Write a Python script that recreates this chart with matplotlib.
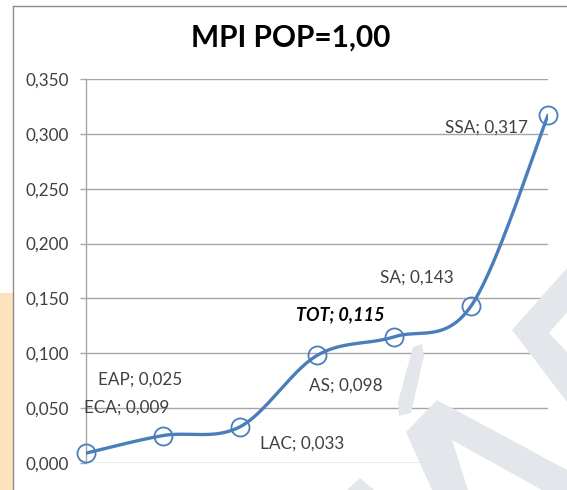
import numpy as np
import matplotlib
matplotlib.use("Agg")
import matplotlib.pyplot as plt
from matplotlib.patches import Polygon, Rectangle
from matplotlib.lines import Line2D

plt.rcParams['font.family'] = ['Lato', 'DejaVu Sans']

# ---- data ----
regions = ["ECA", "EAP", "LAC", "AS", "TOT", "SA", "SSA"]
mpi = [0.009, 0.025, 0.033, 0.098, 0.115, 0.143, 0.317]
yticks = [0.0, 0.05, 0.10, 0.15, 0.20, 0.25, 0.30, 0.35]
title = "MPI POP=1,00"

# label offsets in pixels (dx, dy) from the point
label_off = {
    "ECA": (41, 46), "EAP": (-23, 56), "LAC": (62, -17), "AS": (29, -30),
    "TOT": (-54, 22), "SA": (-54, 28), "SSA": (-62, -12),
}

W, H = 567, 490
fig = plt.figure(figsize=(W / 100, H / 100), dpi=100)
fig.patch.set_facecolor("white")


def px(pts):
    # pixel coords (top-left origin) -> figure fraction
    return [(x / W, 1 - y / H) for x, y in pts]


# peach strip left, frame border
fig.patches.append(Rectangle((0, 0), 13 / W, 1 - 293 / H, transform=fig.transFigure,
                             facecolor="#fde3bd", edgecolor="none", zorder=0))
fig.add_artist(Line2D([13 / W, 13 / W], [0, 1 - 6 / H], transform=fig.transFigure,
                      color="#8c8c8c", lw=1.0))
fig.add_artist(Line2D([13 / W, 1], [1 - 6 / H, 1 - 6 / H], transform=fig.transFigure,
                      color="#8c8c8c", lw=1.0))

# watermark shapes
wm = "#e3e6ea"
shapes = [
    [(567, 268), (512, 330), (567, 402)],
    [(413, 347), (422, 344), (424, 356), (411, 413), (399, 416), (398, 402)],
    [(437, 400), (567, 470), (567, 490), (432, 490), (406, 432)],
    [(347, 490), (360, 478), (374, 490)],
]
for s in shapes:
    fig.patches.append(Polygon(px(s), closed=True, transform=fig.transFigure,
                               facecolor=wm, edgecolor="none", zorder=0.5))
# inner white notches
for s in [[(567, 312), (549, 333), (567, 352)], [(452, 440), (542, 490), (468, 490)]]:
    fig.patches.append(Polygon(px(s), closed=True, transform=fig.transFigure,
                               facecolor="white", edgecolor="none", zorder=0.6))

ax = fig.add_axes([86 / W, 1 - 463 / H, (548 - 86) / W, (463 - 79) / H])
ax.patch.set_alpha(0)

x = np.arange(len(mpi))
y = np.array(mpi)


# smooth line like Excel (Catmull-Rom bezier)
def smooth(xs, ys, n=40):
    P = np.column_stack([xs, ys]).astype(float)
    out = []
    for i in range(len(P) - 1):
        p0 = P[i - 1] if i > 0 else P[i]
        p1, p2 = P[i], P[i + 1]
        p3 = P[i + 2] if i + 2 < len(P) else P[i + 1]
        c1 = p1 + (p2 - p0) / 6
        c2 = p2 - (p3 - p1) / 6
        t = np.linspace(0, 1, n)[:, None]
        seg = ((1 - t) ** 3) * p1 + 3 * ((1 - t) ** 2) * t * c1 + 3 * (1 - t) * t ** 2 * c2 + t ** 3 * p2
        out.append(seg if i == 0 else seg[1:])
    s = np.vstack(out)
    return s[:, 0], s[:, 1]


sx, sy = smooth(x, y)
ax.plot(sx, sy, color="#4a7ebb", lw=2.4, zorder=3, solid_capstyle="round")
ax.plot(x, y, linestyle="none", marker="o", markersize=13, markerfacecolor="none",
        markeredgecolor="#4a7ebb", markeredgewidth=1.3, zorder=4, clip_on=False)

for r, xi, yi in zip(regions, x, y):
    dx, dy = label_off[r]
    txt = f"{r}; {yi:.3f}".replace(".", ",")
    if r == "TOT":
        ax.annotate(txt, (xi, yi), xytext=(dx * 0.72, dy * 0.72), textcoords="offset points",
                    ha="center", va="center", fontsize=13, fontweight="bold",
                    fontstyle="italic", color="black", zorder=5)
    else:
        ax.annotate(txt, (xi, yi), xytext=(dx * 0.72, dy * 0.72), textcoords="offset points",
                    ha="center", va="center", fontsize=12.3, color="#404040", zorder=5)

ax.set_xlim(0, 6)
ax.set_ylim(0, 0.35)
ax.set_yticks(yticks)
ax.set_yticklabels([f"{v:.3f}".replace(".", ",") for v in yticks], fontsize=12.3, color="#404040")
ax.set_xticks([])
ax.grid(axis="y", color="#a6a6a6", lw=1.0)
ax.set_axisbelow(True)
for sp in ["top", "right", "bottom"]:
    ax.spines[sp].set_visible(False)
ax.spines["left"].set_color("#a6a6a6")
ax.spines["left"].set_linewidth(1.0)
ax.tick_params(axis="y", length=4.3, width=1.0, color="#a6a6a6", pad=8)

fig.text(291 / W, 1 - 38 / H, title, ha="center", va="center", fontsize=21.5,
         fontweight="bold", color="black")

fig.savefig("out.png", dpi=100)
